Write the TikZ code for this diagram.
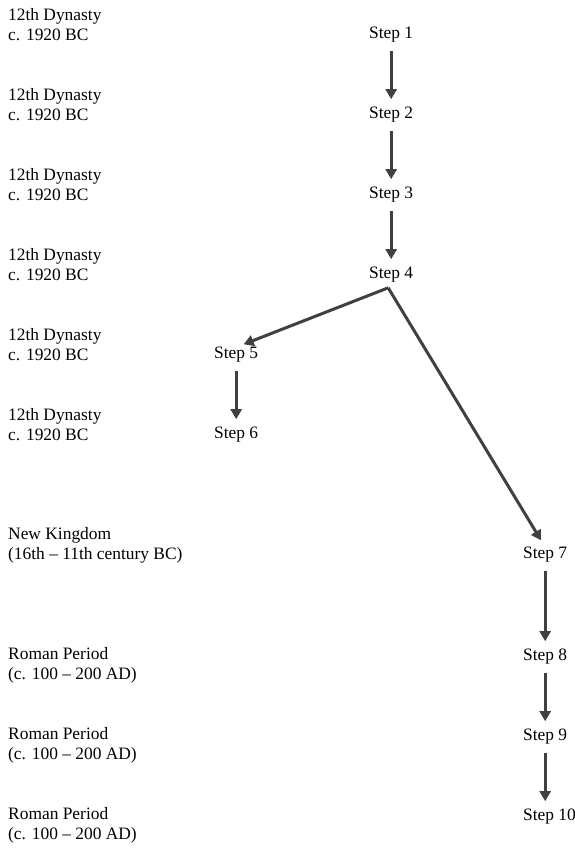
\documentclass[tikz,border=0pt]{standalone}
\usepackage{fontspec}
\setmainfont{Liberation Serif}
\usetikzlibrary{arrows.meta}

\begin{document}
\begin{tikzpicture}[x=1pt, y=1pt,
  every node/.style={font=\fontsize{17.4}{20}\selectfont},
  period/.style={anchor=west, align=left, inner sep=0pt},
  stepnode/.style={anchor=west, inner sep=0pt},
  flow/.style={draw=black!75, line width=3pt, -{Triangle[length=10pt,width=11pt]}, shorten <=8pt, shorten >=8pt}]
\useasboundingbox (0,0) rectangle (575,-849);
% Periods
\node[period] (p1) at (8,-25) {12th Dynasty\\c. 1920 BC};
\node[period] (p2) at (8,-105) {12th Dynasty\\c. 1920 BC};
\node[period] (p3) at (8,-185) {12th Dynasty\\c. 1920 BC};
\node[period] (p4) at (8,-265) {12th Dynasty\\c. 1920 BC};
\node[period] (p5) at (8,-345) {12th Dynasty\\c. 1920 BC};
\node[period] (p6) at (8,-425) {12th Dynasty\\c. 1920 BC};
\node[period] (p7) at (8,-545) {New Kingdom\\(16th -- 11th century BC)};
\node[period] (p8) at (8,-665) {Roman Period\\(c. 100 -- 200 AD)};
\node[period] (p9) at (8,-745) {Roman Period\\(c. 100 -- 200 AD)};
\node[period] (p10) at (8,-825) {Roman Period\\(c. 100 -- 200 AD)};
% Steps
\node[stepnode] (s1) at (369,-35) {Step 1};
\node[stepnode] (s2) at (369,-115) {Step 2};
\node[stepnode] (s3) at (369,-195) {Step 3};
\node[stepnode] (s4) at (369,-275) {Step 4};
\node[stepnode] (s5) at (214,-355) {Step 5};
\node[stepnode] (s6) at (214,-435) {Step 6};
\node[stepnode] (s7) at (523,-555) {Step 7};
\node[stepnode] (s8) at (523,-657) {Step 8};
\node[stepnode] (s9) at (523,-737) {Step 9};
\node[stepnode] (s10) at (523,-817) {Step 10};
\coordinate (fork) at ([xshift=-3pt,yshift=-5pt]s4.south);
% Arrows
\draw[flow] (s1.south) -- (s2.north);
\draw[flow] (s2.south) -- (s3.north);
\draw[flow] (s3.south) -- (s4.north);
\draw[flow, shorten <=0pt] (fork) -- (s5.north);
\draw[flow, shorten <=0pt] (fork) -- (s7.north);
\draw[flow] (s5.south) -- (s6.north);
\draw[flow] (s7.south) -- (s8.north);
\draw[flow] (s8.south) -- (s9.north);
\draw[flow] (s9.south) -- (s9.south |- s10.north);
\end{tikzpicture}
\end{document}
